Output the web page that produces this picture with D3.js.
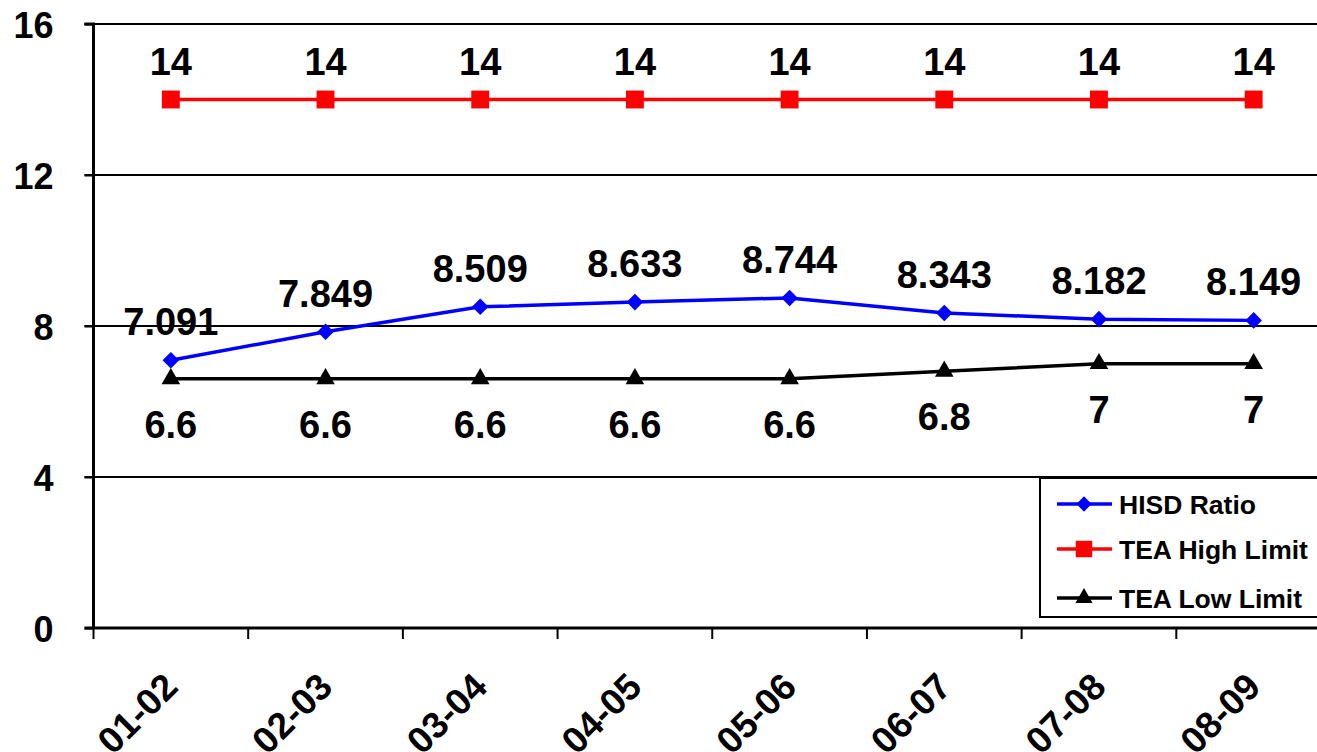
<!DOCTYPE html>
<html><head><meta charset="utf-8">
<script src="https://cdn.jsdelivr.net/npm/d3@7"></script>
<style>html,body{margin:0;padding:0;background:#fff;}svg{display:block;font-family:"Liberation Sans",Arial,sans-serif;font-weight:bold;}</style>
</head><body>
<svg id="chart" width="1317" height="752"></svg>
<script>
const categories = ["01-02","02-03","03-04","04-05","05-06","06-07","07-08","08-09"];
const hisdRatio = [7.091, 7.849, 8.509, 8.633, 8.744, 8.343, 8.182, 8.149];
const teaHigh = [14, 14, 14, 14, 14, 14, 14, 14];
const teaLow = [6.6, 6.6, 6.6, 6.6, 6.6, 6.8, 7, 7];
const yTicks = [0, 4, 8, 12, 16];
const seriesNames = ["HISD Ratio", "TEA High Limit", "TEA Low Limit"];

const svg = d3.select("#chart");
const x0 = 93.5, x1 = 1331, yTop = 24, yBot = 628;
const x = d3.scaleBand().domain(categories).range([x0, x1]).padding(0);
const y = d3.scaleLinear().domain([0, 16]).range([yBot, yTop]);
const cx = c => x(c) + x.bandwidth() / 2;

// gridlines
svg.append("g").selectAll("line").data(yTicks.filter(t => t > 0)).join("line")
  .attr("x1", x0 - 9).attr("x2", 1317).attr("y1", d => y(d)).attr("y2", d => y(d))
  .attr("stroke", "#000").attr("stroke-width", 2);

// y axis
const yAxis = svg.append("g").attr("transform", `translate(${x0},0)`)
  .call(d3.axisLeft(y).tickValues(yTicks).tickSize(9).tickPadding(31));
yAxis.select(".domain").attr("stroke-width", 3).attr("d", `M-9,${yTop}H0V${yBot}`);
yAxis.selectAll(".tick line").attr("stroke-width", 2);
yAxis.selectAll("text").attr("font-size", 36).attr("font-weight", "bold").attr("fill", "#000")
  .attr("font-family", "Liberation Sans, Arial, sans-serif").attr("dy", "0.38em");

// x axis
const xAxis = svg.append("g").attr("transform", `translate(0,${yBot})`)
  .call(d3.axisBottom(x).tickSize(0).tickFormat(""));
xAxis.select(".domain").attr("stroke-width", 3).attr("d", `M${x0 - 9},0H1317`);
svg.append("g").selectAll("line").data(categories).join("line")
  .attr("x1", d => x(d)).attr("x2", d => x(d)).attr("y1", yBot).attr("y2", yBot + 11)
  .attr("stroke", "#000").attr("stroke-width", 2);
svg.append("g").selectAll("text").data(categories).join("text")
  .attr("transform", d => `translate(${cx(d) + 9},${yBot + 61}) rotate(-45)`)
  .attr("text-anchor", "end")
  .attr("font-size", 37).attr("fill", "#000").text(d => d);

// series
const series = [
  {name: seriesNames[0], values: hisdRatio, color: "#0000FF", symbol: d3.symbolDiamond2, size: 175, labelDy: -25},
  {name: seriesNames[1], values: teaHigh, color: "#FF0000", symbol: d3.symbolSquare, size: 320, labelDy: -25},
  {name: seriesNames[2], values: teaLow, color: "#000000", symbol: d3.symbolTriangle, size: 150, labelDy: 59}
];

const line = d3.line().x(d => cx(d.c)).y(d => y(d.v));
series.forEach(s => {
  const pts = categories.map((c, i) => ({c, v: s.values[i]}));
  svg.append("path").datum(pts).attr("d", line).attr("fill", "none")
    .attr("stroke", s.color).attr("stroke-width", 3.5);
  svg.append("g").selectAll("path").data(pts).join("path")
    .attr("d", d3.symbol().type(s.symbol).size(s.size))
    .attr("transform", d => `translate(${cx(d.c)},${y(d.v)})`)
    .attr("fill", s.color);
  svg.append("g").selectAll("text").data(pts).join("text")
    .attr("x", d => cx(d.c)).attr("y", d => y(d.v) + s.labelDy)
    .attr("text-anchor", "middle").attr("font-size", 38).attr("fill", "#000")
    .text(d => String(d.v));
});

// legend
const lg = svg.append("g");
lg.append("rect").attr("x", 1040).attr("y", 478).attr("width", 290).attr("height", 139)
  .attr("fill", "#fff").attr("stroke", "#000").attr("stroke-width", 2);
const rowsY = [504, 549, 598];
series.forEach((s, i) => {
  const yy = rowsY[i];
  lg.append("line").attr("x1", 1057).attr("x2", 1112).attr("y1", yy).attr("y2", yy)
    .attr("stroke", s.color).attr("stroke-width", 3.5);
  lg.append("path").attr("d", d3.symbol().type(s.symbol).size(s.size * 0.85))
    .attr("transform", `translate(1084,${yy})`).attr("fill", s.color);
  lg.append("text").attr("x", 1119).attr("y", yy + 10).attr("font-size", 26.5).attr("fill", "#000").text(s.name);
});
</script>
</body></html>
